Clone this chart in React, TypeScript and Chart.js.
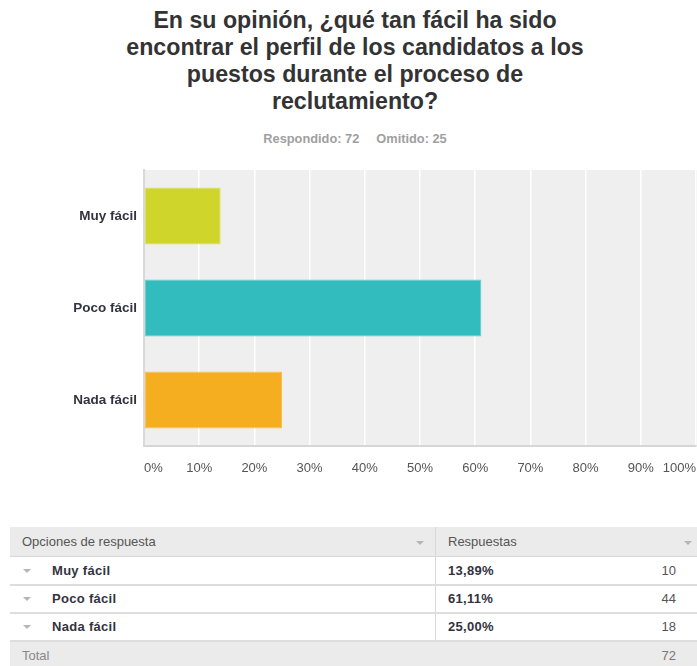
import React, { useEffect, useRef } from "react";
import { Chart, registerables } from "chart.js";

Chart.register(...registerables);

const TITLE_LINES = [
  "En su opinión, ¿qué tan fácil ha sido",
  "encontrar el perfil de los candidatos a los",
  "puestos durante el proceso de",
  "reclutamiento?",
];
const ANSWERED = 72;
const SKIPPED = 25;
const categories = ["Muy fácil", "Poco fácil", "Nada fácil"];
const percents = [13.89, 61.11, 25.0];
const percentLabels = ["13,89%", "61,11%", "25,00%"];
const counts = [10, 44, 18];
const total = 72;
const xTicks = [0, 10, 20, 30, 40, 50, 60, 70, 80, 90, 100];
const barColors = ["#cfd52b", "#33bcbe", "#f5ae1f"];
const barBorders = ["#dadf5c", "#5cc9cb", "#f7bf50"];

const FONT = '"Liberation Sans", Arial, sans-serif';

const bgPlugin = {
  id: "plotBg",
  beforeDraw(chart: any) {
    const { ctx, chartArea } = chart;
    ctx.save();
    ctx.fillStyle = "#efefef";
    ctx.fillRect(chartArea.left, chartArea.top, chart.width - chartArea.left, chartArea.bottom - chartArea.top);
    ctx.restore();
  },
};

function Triangle({ left, top }: { left: number; top: number }) {
  return (
    <div
      style={{
        position: "absolute",
        left,
        top,
        width: 0,
        height: 0,
        borderLeft: "4.5px solid transparent",
        borderRight: "4.5px solid transparent",
        borderTop: "4px solid #b5b5b5",
      }}
    />
  );
}

export default function App() {
  const ref = useRef<HTMLCanvasElement>(null);

  useEffect(() => {
    if (!ref.current) return;
    const chart = new Chart(ref.current, {
      type: "bar",
      data: {
        labels: categories,
        datasets: [
          {
            data: percents,
            backgroundColor: barColors,
            borderColor: barBorders,
            borderWidth: 1,
            borderSkipped: false,
            barPercentage: 0.62,
            categoryPercentage: 1,
          },
        ],
      },
      options: {
        indexAxis: "y",
        animation: false,
        responsive: false,
        layout: { padding: { top: 10, right: 1, left: 0, bottom: 0 } },
        plugins: { legend: { display: false }, tooltip: { enabled: false }, title: { display: false } },
        scales: {
          x: {
            type: "linear",
            min: 0,
            max: 100,
            afterBuildTicks(scale: any) {
              scale.ticks = xTicks.map((v) => ({ value: v }));
            },
            afterFit(scale: any) {
              scale.height = 44;
              scale.paddingLeft = 0;
              scale.paddingRight = 0;
            },
            grid: { color: "#ffffff", lineWidth: 1.5, drawTicks: false },
            border: { display: true, color: "#d6d6d6", width: 2 },
            ticks: {
              align: "inner",
              padding: 15,
              color: "#555",
              font: { family: FONT, size: 13 },
              callback: (v: any) => v + "%",
            },
          },
          y: {
            afterFit(scale: any) {
              scale.width = 144;
              scale.paddingTop = 0;
              scale.paddingBottom = 0;
            },
            grid: { display: false, drawTicks: false },
            border: { display: true, color: "#d9d9d9", width: 2 },
            ticks: {
              padding: 7,
              color: "#333340",
              font: { family: FONT, size: 13.5, weight: "bold" },
            },
          },
        },
      },
      plugins: [bgPlugin],
    } as any);
    return () => chart.destroy();
  }, []);

  const rowTop = [556, 584, 612];
  const bold = { fontSize: 13, fontWeight: "bold" as const, color: "#333340", letterSpacing: 0.3 };
  return (
    <div style={{ position: "relative", width: 697, height: 666, fontFamily: FONT, overflow: "hidden" }}>
      <style>{"body{margin:0}"}</style>
      <div
        style={{
          position: "absolute",
          left: 0,
          top: 7,
          width: 710,
          textAlign: "center",
          fontSize: 23.2,
          lineHeight: "27px",
          fontWeight: "bold",
          color: "#333",
        }}
      >
        {TITLE_LINES.map((l, i) => (
          <div key={i}>{l}</div>
        ))}
      </div>
      <div
        style={{
          position: "absolute",
          left: 0,
          top: 131,
          width: 710,
          textAlign: "center",
          fontSize: 12.8,
          fontWeight: "bold",
          color: "#a0a0a0",
          whiteSpace: "pre",
        }}
      >
        <span>{`Respondido: ${ANSWERED}`}</span>
        <span style={{ marginLeft: 17 }}>{`Omitido: ${SKIPPED}`}</span>
      </div>
      <div style={{ position: "absolute", left: 0, top: 160, width: 697, height: 330 }}>
        <canvas ref={ref} width={697} height={330} />
      </div>

      {/* table */}
      <div style={{ position: "absolute", left: 10, top: 527, width: 687, height: 139, fontSize: 13, color: "#555" }}>
        <div style={{ position: "absolute", left: 0, top: 0, width: 687, height: 29, background: "#ebebeb", borderBottom: "1px solid #d8d8d8" }} />
        <div style={{ position: "absolute", left: 12, top: 7 }}>Opciones de respuesta</div>
        <div style={{ position: "absolute", left: 438, top: 7 }}>Respuestas</div>
        <div style={{ position: "absolute", left: 425, top: 0, width: 1, height: 114, background: "#d8d8d8" }} />
        <div style={{ position: "absolute", left: 687, top: 0, width: 1, height: 114, background: "#d8d8d8" }} />
      </div>
      <Triangle left={416} top={541} />
      <Triangle left={684} top={541} />
      {categories.map((c, i) => (
        <React.Fragment key={c}>
          <div style={{ position: "absolute", left: 10, top: rowTop[i] + 28, width: 687, height: 2, background: "#dddddd" }} />
          <Triangle left={23} top={rowTop[i] + 13} />
          <div style={{ position: "absolute", left: 52, top: rowTop[i] + 7, ...bold }}>{c}</div>
          <div style={{ position: "absolute", left: 448, top: rowTop[i] + 7, ...bold }}>{percentLabels[i]}</div>
          <div style={{ position: "absolute", right: 21, top: rowTop[i] + 7, fontSize: 13, color: "#555" }}>{counts[i]}</div>
        </React.Fragment>
      ))}
      <div style={{ position: "absolute", left: 10, top: 642, width: 687, height: 24, background: "#ebebeb" }} />
      <div style={{ position: "absolute", left: 22, top: 648, fontSize: 13, color: "#888" }}>Total</div>
      <div style={{ position: "absolute", right: 21, top: 648, fontSize: 13, color: "#777" }}>{total}</div>
    </div>
  );
}
